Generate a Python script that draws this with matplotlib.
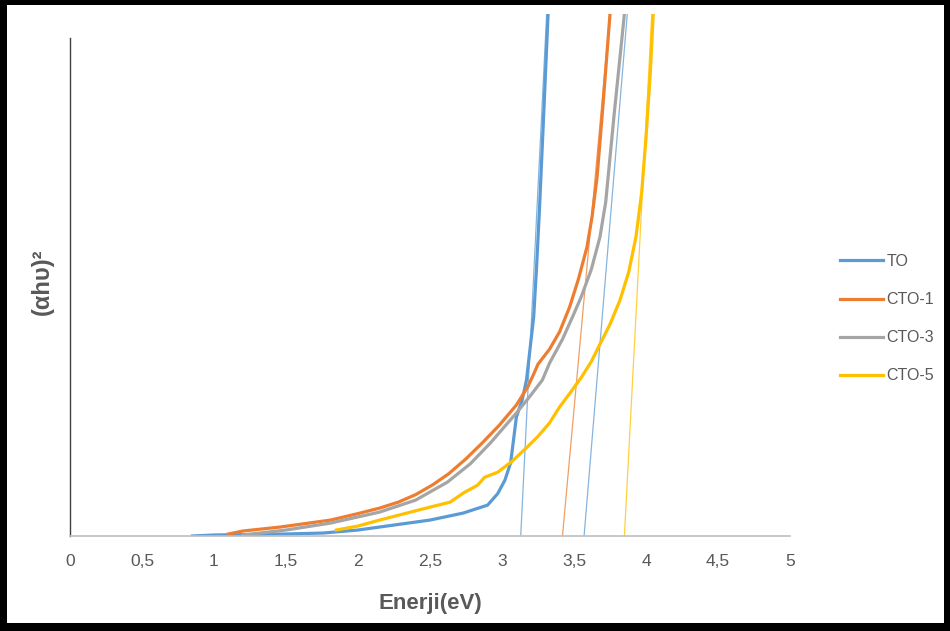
import matplotlib
matplotlib.use('Agg')
import matplotlib.pyplot as plt
from matplotlib.patches import Rectangle

# Veri (grafikten okunan degerler, y ekseni keyfi birim)
to_x = [0.85, 1.0, 1.5, 1.76, 2.0, 2.15, 2.5, 2.73, 2.9, 2.97, 3.02, 3.06, 3.08, 3.10,
        3.14, 3.17, 3.22, 3.24, 3.26, 3.29, 3.32]
to_y = [0.0, 0.002, 0.004, 0.006, 0.012, 0.018, 0.032, 0.046, 0.062, 0.085, 0.112, 0.147,
        0.193, 0.239, 0.273, 0.313, 0.44, 0.54, 0.655, 0.85, 1.048]

cto1_x = [1.10, 1.2, 1.46, 1.81, 2.0, 2.15, 2.28, 2.4, 2.52, 2.63, 2.75, 2.86, 2.98, 3.10,
          3.18, 3.22, 3.25, 3.33, 3.40, 3.47, 3.53, 3.59, 3.625, 3.66, 3.70, 3.75]
cto1_y = [0.004, 0.010, 0.018, 0.032, 0.045, 0.056, 0.068, 0.083, 0.103, 0.125, 0.155,
          0.186, 0.222, 0.263, 0.30, 0.325, 0.345, 0.375, 0.41, 0.46, 0.515, 0.58, 0.64,
          0.72, 0.86, 1.048]

cto3_x = [1.2, 1.5, 1.81, 2.15, 2.4, 2.62, 2.78, 2.92, 3.10, 3.19, 3.28, 3.33, 3.42,
          3.49, 3.55, 3.62, 3.68, 3.72, 3.78, 3.85]
cto3_y = [0.002, 0.012, 0.026, 0.048, 0.072, 0.108, 0.145, 0.187, 0.247, 0.279, 0.313,
          0.347, 0.395, 0.44, 0.48, 0.535, 0.60, 0.67, 0.85, 1.048]

cto5_x = [1.85, 2.0, 2.15, 2.5, 2.64, 2.73, 2.83, 2.88, 2.97, 3.07, 3.17, 3.25, 3.33,
          3.40, 3.48, 3.55, 3.62, 3.68, 3.75, 3.82, 3.88, 3.93, 3.97, 4.0, 4.03, 4.05]
cto5_y = [0.012, 0.02, 0.032, 0.058, 0.068, 0.086, 0.102, 0.118, 0.128, 0.15, 0.177,
          0.2, 0.227, 0.259, 0.29, 0.318, 0.35, 0.385, 0.425, 0.474, 0.53, 0.60, 0.69,
          0.80, 0.93, 1.048]

# Teget cizgileri (baslangic ve bitis)
tan_x = [[3.13, 3.31], [3.42, 3.75], [3.57, 3.87], [3.85, 4.04]]
tan_y = [[0.0, 1.048], [0.0, 1.048], [0.0, 1.048], [0.0, 1.048]]
tan_colors = ['#5B9BD5', '#ED7D31', '#5B9BD5', '#FFC000']

series = [('TO', to_x, to_y, '#5B9BD5'),
          ('CTO-1', cto1_x, cto1_y, '#ED7D31'),
          ('CTO-3', cto3_x, cto3_y, '#A5A5A5'),
          ('CTO-5', cto5_x, cto5_y, '#FFC000')]

xticks = [0, 0.5, 1, 1.5, 2, 2.5, 3, 3.5, 4, 4.5, 5]
xtick_labels = ['0', '0,5', '1', '1,5', '2', '2,5', '3', '3,5', '4', '4,5', '5']

lettertype = ['Liberation Sans', 'DejaVu Sans']
grijs = '#595959'

fig = plt.figure(figsize=(9.5, 6.31), dpi=100)
ax = fig.add_axes([70 / 950, 1 - 536 / 631, 720 / 950, 522 / 631])

for xs, ys, c in zip(tan_x, tan_y, tan_colors):
    ax.plot(xs, ys, color=c, lw=0.9, alpha=0.75)

for naam, xs, ys, c in series:
    ax.plot(xs, ys, color=c, lw=2.3, label=naam, solid_joinstyle='round')

ax.set_xlim(0, 5)
ax.set_ylim(0, 1.048)
ax.set_xticks(xticks)
ax.set_xticklabels(xtick_labels, family=lettertype, fontsize=12.5, color=grijs)
ax.set_yticks([])
ax.tick_params(axis='x', length=0, pad=13)

for s in ['top', 'right']:
    ax.spines[s].set_visible(False)
ax.spines['bottom'].set_color('#BFBFBF')
ax.spines['bottom'].set_linewidth(1.2)
ax.spines['left'].set_color('#404040')
ax.spines['left'].set_linewidth(1.0)
ax.spines['left'].set_bounds(0, 1.0)

fig.text(430 / 950, 1 - 604 / 631, 'Enerji(eV)', ha='center', va='center',
         fontsize=16, fontweight='bold', color=grijs, family=lettertype)
fig.text(42 / 950, 1 - 282 / 631, '(αhυ)²', ha='center', va='center', rotation=90,
         fontsize=17, fontweight='bold', color=grijs, family=lettertype)

fig.legend(loc='upper left', bbox_to_anchor=(832 / 950, 1 - 246 / 631), frameon=False,
           borderpad=0, handlelength=2.7, handletextpad=0.2, labelspacing=1.45,
           prop={'family': lettertype, 'size': 11.5}, labelcolor=grijs)

# Zwarte rand rond de figuur
for x0, y0, w, h in [(0, 0, 7, 631), (944, 0, 6, 631), (0, 0, 950, 8), (0, 626, 950, 5)]:
    fig.add_artist(Rectangle((x0 / 950, y0 / 631), w / 950, h / 631,
                             transform=fig.transFigure, color='black', lw=0))

fig.savefig('out.png', dpi=100)
